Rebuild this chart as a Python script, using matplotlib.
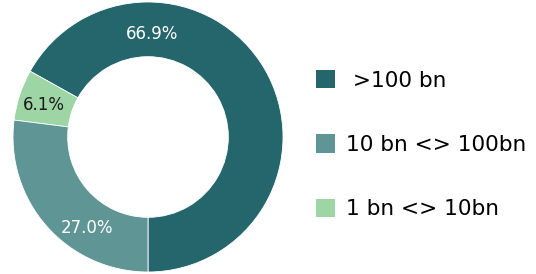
import matplotlib.pyplot as plt
from matplotlib.patches import Patch
import numpy as np

# data
categories = [">100 bn", "10 bn <> 100bn", "1 bn <> 10bn"]
shares = [66.9, 27.0, 6.1]
colors = ["#24666b", "#5f9695", "#9dd5a5"]
label_colors = ["white", "white", "#1a1a1a"]
# label angles (deg) as placed in the original
label_angles = [88, 236, 163]

fig = plt.figure(figsize=(5.36, 2.74), dpi=100)
ax = fig.add_axes([13 / 536, 2 / 274, 270 / 536, 270 / 274])

# draw in order: dark, light, medium going counterclockwise from the bottom
order = [0, 2, 1]
ax.pie([shares[i] for i in order], colors=[colors[i] for i in order],
       startangle=-90, counterclock=True, radius=1.0,
       wedgeprops=dict(width=0.405, edgecolor="white", linewidth=0.6))

for i, val in enumerate(shares):
    a = np.deg2rad(label_angles[i])
    r = 0.76 if i == 0 else 0.81
    ax.text(r * np.cos(a), r * np.sin(a), f"{val:.1f}%", ha="center", va="center",
            color=label_colors[i], fontsize=12, family="DejaVu Sans")

ax.set_xlim(-1, 1)
ax.set_ylim(-1, 1)
ax.set_aspect("equal")
ax.axis("off")

handles = [Patch(facecolor=c, edgecolor="none") for c in colors]
labels = [" " + categories[0]] + categories[1:]
fig.legend(handles, labels, loc="center left", bbox_to_anchor=(307 / 536, 0.472),
           frameon=False, borderaxespad=0, handlelength=0.91, handleheight=0.91,
           handletextpad=0.5, labelspacing=2.02,
           prop={"family": "DejaVu Sans", "size": 15.6})

fig.savefig("out.png", dpi=100)
